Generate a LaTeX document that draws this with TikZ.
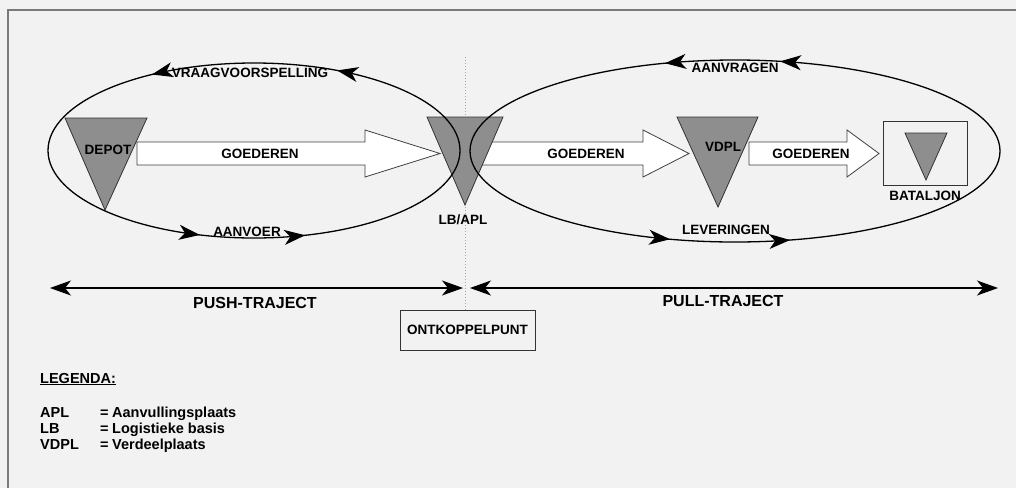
\documentclass[tikz,border=0pt]{standalone}
\usepackage{fontspec}
\setmainfont{Liberation Sans}
\usetikzlibrary{arrows.meta}
\definecolor{paper}{HTML}{F2F2F2}
\definecolor{framegrey}{HTML}{7A7A7A}
\definecolor{stock}{HTML}{8E8E8E}
\tikzset{
  lbl/.style={font=\fontsize{13.5}{15}\selectfont\bfseries, inner sep=0pt},
  biglbl/.style={font=\fontsize{16}{18}\selectfont\bfseries, inner sep=0pt},
  leg/.style={font=\fontsize{14.5}{16}\selectfont\bfseries, inner sep=0pt, anchor=base west},
  cycleline/.style={draw=black, line width=1.3pt},
  head/.style={-{Stealth[length=21pt, width=15pt, inset=6pt]}, line width=1.3pt},
  flowarrow/.style={draw=black!75, fill=white, line width=0.8pt, line join=miter},
  stockpoint/.style={draw=black!80, fill=stock, line width=0.8pt, line join=miter},
  trajectline/.style={line width=1.1pt, {Stealth[length=21pt, width=15pt, inset=6pt]}-{Stealth[length=21pt, width=15pt, inset=6pt]}},
  plainbox/.style={draw=black!80, line width=0.8pt, fill=none}
}
\begin{document}
\begin{tikzpicture}[x=1pt, y=-1pt]
\useasboundingbox (0,0) rectangle (1016,488);
\fill[paper] (0,0) rectangle (1016,488);
% frame edges
\draw[framegrey, line width=1.2pt] (8,488) -- (8,10) -- (1016,10);

% decoupling marker
\draw[black!35, line width=1pt, dotted] (465,57) -- (465,310);

% goods flows
\draw[flowarrow] (137,142) -- (365,142) -- (365,130) -- (440,153.5) -- (365,177) -- (365,165) -- (137,165) -- cycle;
\draw[flowarrow] (480,142) -- (643,142) -- (643,130) -- (689,153.5) -- (643,177) -- (643,165) -- (480,165) -- cycle;
\draw[flowarrow] (749,142) -- (847,142) -- (847,130) -- (879,153.5) -- (847,177) -- (847,165) -- (749,165) -- cycle;

% stock points
\draw[stockpoint] (65,118) -- (147,118) -- (105,210) -- cycle;
\draw[stockpoint] (427,117) -- (503,117) -- (465,205) -- cycle;
\draw[stockpoint] (677,117) -- (758,117) -- (718,207) -- cycle;
\node[plainbox, minimum width=84pt, minimum height=64pt, anchor=north west] (batbox) at (883,121) {};
\draw[stockpoint] (905,133) -- (947,133) -- (926,180) -- cycle;

% information / delivery cycles
\coordinate (cL) at (254,150.5);
\coordinate (cR) at (735,151);
\draw[cycleline] (cL) ellipse [x radius=206, y radius=87.5];
\draw[cycleline] (cR) ellipse [x radius=265, y radius=91];
\foreach \t in {240.3, 293.8, 105.2, 75.6}{
  \pgfmathsetmacro\s{\t+2}
  \path (cL) ++(\s:206 and 87.5) coordinate (ha);
  \path (cL) ++(\t:206 and 87.5) coordinate (hb);
  \draw[head] (ha) -- (hb);
}
\foreach \t in {254.7, 279.8, 104.2, 78}{
  \pgfmathsetmacro\s{\t+2}
  \path (cR) ++(\s:265 and 91) coordinate (ha);
  \path (cR) ++(\t:265 and 91) coordinate (hb);
  \draw[head] (ha) -- (hb);
}

% labels
\node[lbl] (vraag) at (250,73) {VRAAGVOORSPELLING};
\node[lbl] (aanvoer) at (247,232) {AANVOER};
\node[lbl] (aanvragen) at (735,68) {AANVRAGEN};
\node[lbl] (lever) at (726,230) {LEVERINGEN};
\node[lbl] (goed1) at (260,153.5) {GOEDEREN};
\node[lbl] (goed2) at (586,153.5) {GOEDEREN};
\node[lbl] (goed3) at (811,153.5) {GOEDEREN};
\node[lbl] (depot) at (108,150) {DEPOT};
\node[lbl] (vdpl) at (723,147) {VDPL};
\node[lbl] (lbapl) at (463,220) {LB/APL};
\node[lbl] (bat) at (925,196) {BATALJON};

% push / pull trajectories
\coordinate (pushL) at (50,288);
\coordinate (pushR) at (463,288);
\coordinate (pullL) at (470,288);
\coordinate (pullR) at (998,288);
\draw[trajectline] (pushL) -- (pushR);
\draw[trajectline] (pullL) -- (pullR);
\node[biglbl] (push) at (255,303) {PUSH-TRAJECT};
\node[biglbl] (pull) at (723,301) {PULL-TRAJECT};
\node[plainbox, lbl, minimum width=135pt, minimum height=40pt] (okp) at (467.5,330) {ONTKOPPELPUNT};

% legend
\node[leg] (legtitle) at (40,383) {\underline{LEGENDA:}};
\node[leg] (k1) at (40,417) {APL};
\node[leg] (k2) at (40,433) {LB};
\node[leg] (k3) at (40,449) {VDPL};
\node[leg] (e1) at (100,417) {=};
\node[leg] (e2) at (100,433) {=};
\node[leg] (e3) at (100,449) {=};
\node[leg] (d1) at (112,417) {Aanvullingsplaats};
\node[leg] (d2) at (112,433) {Logistieke basis};
\node[leg] (d3) at (112,449) {Verdeelplaats};
\end{tikzpicture}
\end{document}
